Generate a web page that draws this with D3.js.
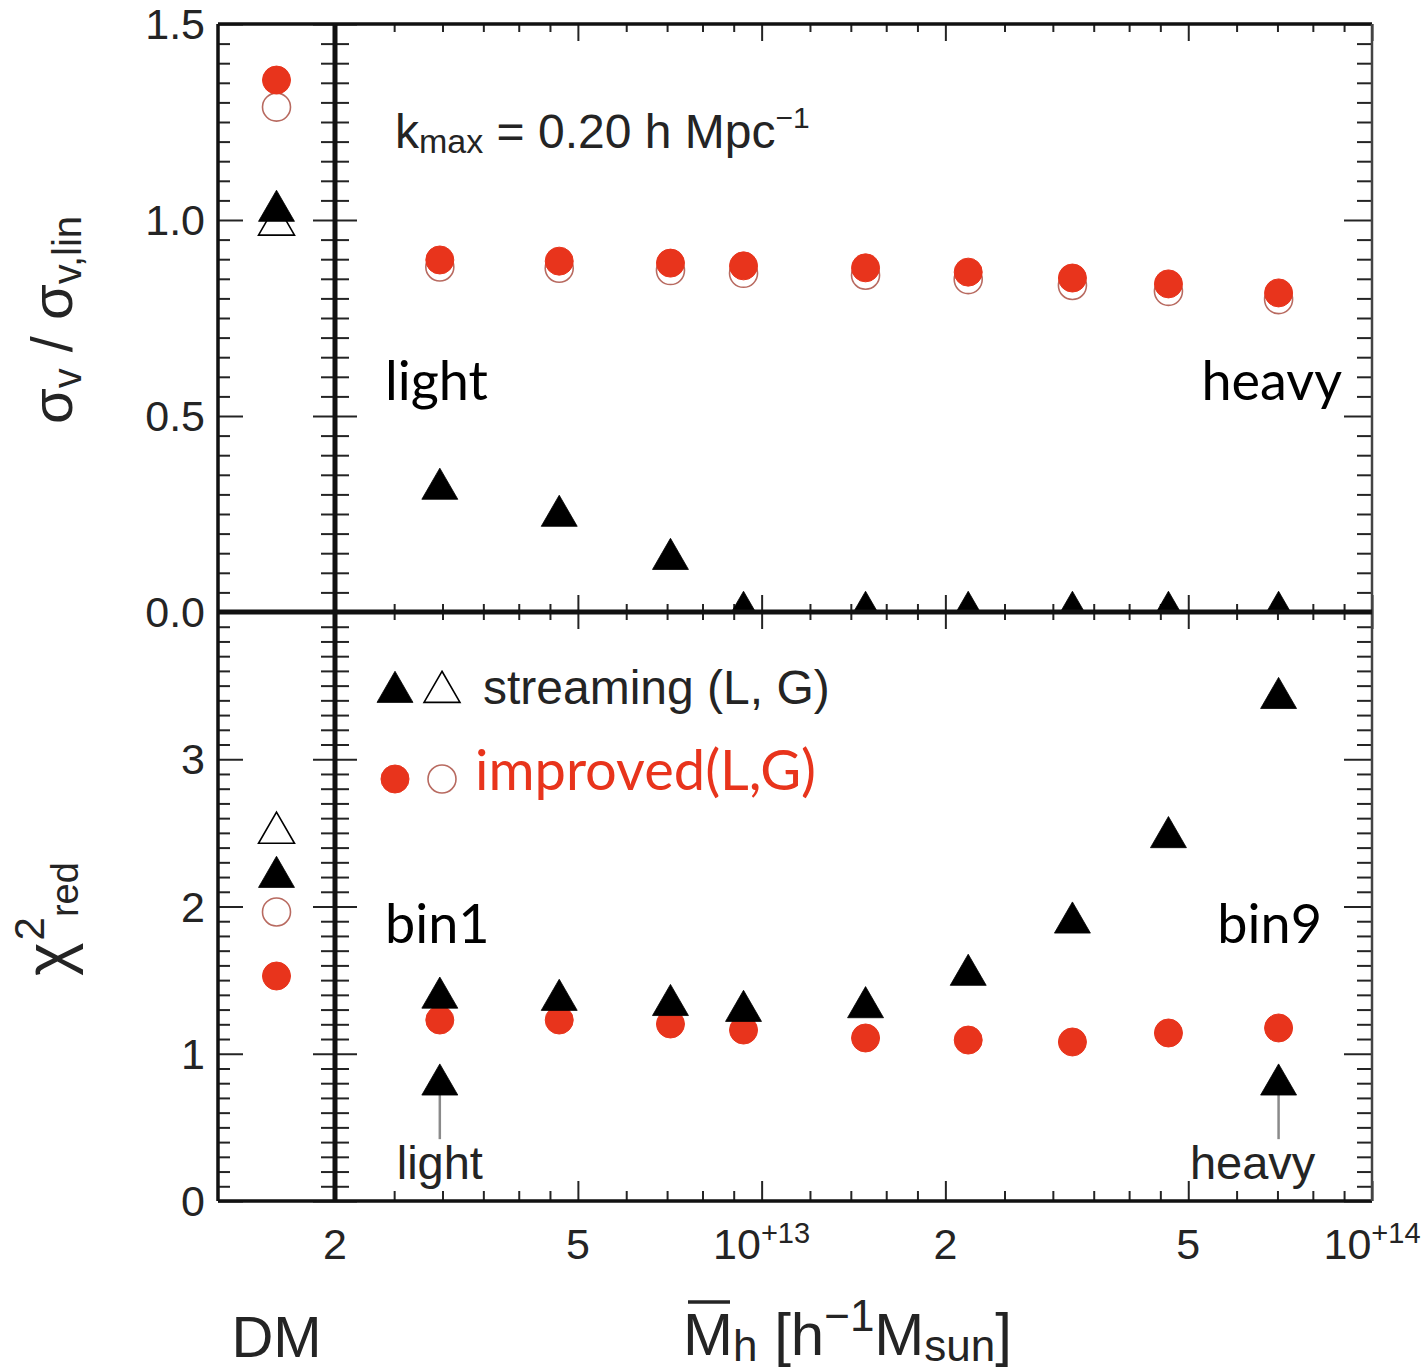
<!DOCTYPE html>
<html>
<head>
<meta charset="utf-8">
<script src="https://cdn.jsdelivr.net/npm/d3@7"></script>
<style>
  body { margin: 0; background: #fff; }
  svg { display: block; }
</style>
</head>
<body>
<script>
// ---- data -------------------------------------------------------------
// mean halo mass of each bin [h^-1 Msun]
const massBins = [2.97e12, 4.66e12, 7.09e12, 9.34e12, 1.48e13, 2.18e13, 3.23e13, 4.64e13, 7.03e13];

// sigma_v / sigma_v,lin per bin
const sigmaStreamL   = [0.314, 0.245, 0.135, 0.0, 0.0, 0.0, 0.0, 0.0, 0.0];
const sigmaImprovedL = [0.898, 0.895, 0.890, 0.883, 0.878, 0.867, 0.852, 0.837, 0.814];
const sigmaImprovedG = [0.880, 0.877, 0.871, 0.864, 0.859, 0.848, 0.833, 0.818, 0.797];

// reduced chi^2 per bin
const chiStreamL   = [1.38, 1.365, 1.33, 1.29, 1.315, 1.535, 1.89, 2.47, 3.415];
const chiImprovedL = [1.229, 1.229, 1.202, 1.161, 1.107, 1.093, 1.080, 1.141, 1.175];

// dark matter reference: [streaming L, streaming G, improved L, improved G]
const dmSigma = [1.023, 0.988, 1.357, 1.288];
const dmChi   = [2.20, 2.50, 1.528, 1.963];

// "light" / "heavy" pointers in the chi^2 panel
const pointerBins   = [2.97e12, 7.03e13];
const pointerLabels = ["light", "heavy"];
const pointerTip    = 0.79;
const pointerTail   = 0.42;

// ticks
const xMajorTicks = [2e12, 5e12, 1e13, 2e13, 5e13, 1e14];
const xMinorTicks = [2.5e12, 3e12, 3.5e12, 4e12, 4.5e12, 6e12, 7e12, 8e12, 9e12,
                     1.2e13, 1.4e13, 1.6e13, 1.8e13, 2.5e13, 3e13, 3.5e13, 4e13, 4.5e13,
                     6e13, 7e13, 8e13, 9e13];
const xTickLabels = [
  { v: 2e12, base: "2", exp: "" },
  { v: 5e12, base: "5", exp: "" },
  { v: 1e13, base: "10", exp: "+13" },
  { v: 2e13, base: "2", exp: "" },
  { v: 5e13, base: "5", exp: "" },
  { v: 1e14, base: "10", exp: "+14" }
];
const sigmaMajorTicks = [0, 0.5, 1.0, 1.5];
const sigmaTickLabels = ["0.0", "0.5", "1.0", "1.5"];
const chiMajorTicks = [0, 1, 2, 3];
const chiTickLabels = ["0", "1", "2", "3"];

// ---- layout -----------------------------------------------------------
const W = 1422, H = 1370;
const pLeft = 218, pSep = 335, pRight = 1372, pTop = 24, pMid = 612, pBottom = 1201;

const RED = "#e8341c";
const INK = "#242424";
const helv = "'Liberation Sans', Arial, sans-serif";
const gill = "Lato, 'Open Sans', sans-serif";

const svg = d3.select("body").append("svg")
  .attr("width", W).attr("height", H)
  .attr("viewBox", `0 0 ${W} ${H}`);

const x = d3.scaleLog().domain([2e12, 1e14]).range([pSep, pRight]);
const xDM = d3.scalePoint().domain(["DM"]).range([pLeft, pSep]).padding(0.5);
const ySig = d3.scaleLinear().domain([0, 1.5]).range([pMid, pTop]);
const yChi = d3.scaleLinear().domain([0, 4]).range([pBottom, pMid]);

const sigmaMinor = d3.range(0, 1.5001, 0.05).map(v => +v.toFixed(2)).filter(v => !sigmaMajorTicks.includes(v));
const chiMinor = d3.range(0, 4.0001, 0.1).map(v => +v.toFixed(1)).filter(v => v % 1 !== 0);

// clip regions for the panels
const defs = svg.append("defs");
const clips = {
  sigMain: [pSep, pTop, pRight - pSep, pMid - pTop],
  chiMain: [pSep, pMid, pRight - pSep, pBottom - pMid],
  sigDM: [pLeft, pTop, pSep - pLeft, pMid - pTop],
  chiDM: [pLeft, pMid, pSep - pLeft, pBottom - pMid]
};
Object.entries(clips).forEach(([id, r]) => {
  defs.append("clipPath").attr("id", id).append("rect")
    .attr("x", r[0]).attr("y", r[1]).attr("width", r[2]).attr("height", r[3]);
});

// ---- tick marks -------------------------------------------------------
function styleAxis(g) {
  g.select(".domain").remove();
  g.selectAll("line").attr("stroke", INK).attr("stroke-width", 2);
  g.selectAll("text").remove();
}
function yTicks(scale, xpos, values, len, dir) {
  const ax = dir > 0 ? d3.axisRight(scale) : d3.axisLeft(scale);
  svg.append("g").attr("transform", `translate(${xpos},0)`)
    .call(ax.tickValues(values).tickSize(len).tickFormat(""))
    .call(styleAxis);
}
function xTicks(scale, ypos, values, len, dir) {
  const ax = dir > 0 ? d3.axisBottom(scale) : d3.axisTop(scale);
  svg.append("g").attr("transform", `translate(0,${ypos})`)
    .call(ax.tickValues(values).tickSize(len).tickFormat(""))
    .call(styleAxis);
}

// left frame (inward), separator (both sides), right frame (inward)
[[ySig, sigmaMajorTicks, sigmaMinor], [yChi, chiMajorTicks, chiMinor]].forEach(([s, maj, mnr]) => {
  yTicks(s, pLeft, maj, 25, 1);
  yTicks(s, pLeft, mnr, 12, 1);
  yTicks(s, pSep, maj, 22, 1);
  yTicks(s, pSep, mnr, 14, 1);
  yTicks(s, pSep, maj, 22, -1);
  yTicks(s, pSep, mnr, 14, -1);
  yTicks(s, pRight, maj, 28, -1);
  yTicks(s, pRight, mnr, 15, -1);
});
// horizontal mass ticks: top (inward), middle (both sides), bottom (inward)
xTicks(x, pTop, xMajorTicks, 17, 1);
xTicks(x, pTop, xMinorTicks, 8, 1);
xTicks(x, pMid, xMajorTicks, 17, 1);
xTicks(x, pMid, xMinorTicks, 8, 1);
xTicks(x, pMid, xMajorTicks, 17, -1);
xTicks(x, pMid, xMinorTicks, 8, -1);
xTicks(x, pBottom, xMajorTicks, 20, -1);
xTicks(x, pBottom, xMinorTicks, 10, -1);

// ---- markers ----------------------------------------------------------
const triPath = d3.symbol(d3.symbolTriangle, 560)();
const R = 14;

function triangles(g, pts, filled) {
  g.selectAll(null).data(pts).join("path")
    .attr("d", triPath)
    .attr("transform", d => `translate(${d[0]},${d[1]})`)
    .attr("fill", filled ? "#000" : "#fff")
    .attr("stroke", "#000")
    .attr("stroke-width", filled ? 0.8 : 1.6);
}
function circles(g, pts, filled) {
  g.selectAll(null).data(pts).join("circle")
    .attr("cx", d => d[0]).attr("cy", d => d[1]).attr("r", R)
    .attr("fill", filled ? RED : "#fff")
    .attr("stroke", filled ? RED : "#b86a60")
    .attr("stroke-width", filled ? 1 : 1.6);
}

// sigma_v panel
const gSig = svg.append("g").attr("clip-path", "url(#sigMain)");
circles(gSig, massBins.map((m, i) => [x(m), ySig(sigmaImprovedG[i])]), false);
circles(gSig, massBins.map((m, i) => [x(m), ySig(sigmaImprovedL[i])]), true);
triangles(gSig, massBins.map((m, i) => [x(m), ySig(sigmaStreamL[i])]), true);

const gSigDM = svg.append("g").attr("clip-path", "url(#sigDM)");
const xd = xDM("DM");
triangles(gSigDM, [[xd, ySig(dmSigma[1])]], false);
triangles(gSigDM, [[xd, ySig(dmSigma[0])]], true);
circles(gSigDM, [[xd, ySig(dmSigma[3])]], false);
circles(gSigDM, [[xd, ySig(dmSigma[2])]], true);

// chi^2 panel
const gChi = svg.append("g").attr("clip-path", "url(#chiMain)");
circles(gChi, massBins.map((m, i) => [x(m), yChi(chiImprovedL[i])]), true);
triangles(gChi, massBins.map((m, i) => [x(m), yChi(chiStreamL[i])]), true);

const gChiDM = svg.append("g").attr("clip-path", "url(#chiDM)");
triangles(gChiDM, [[xd, yChi(dmChi[1])]], false);
triangles(gChiDM, [[xd, yChi(dmChi[0])]], true);
circles(gChiDM, [[xd, yChi(dmChi[3])]], false);
circles(gChiDM, [[xd, yChi(dmChi[2])]], true);

// light / heavy pointers
const pointerShift = [0, -26];
pointerBins.forEach((m, i) => {
  svg.append("line")
    .attr("x1", x(m)).attr("x2", x(m))
    .attr("y1", yChi(pointerTail)).attr("y2", yChi(pointerTip) + 8)
    .attr("stroke", "#8a8a8a").attr("stroke-width", 2.5);
  triangles(svg.append("g"), [[x(m), yChi(pointerTip)]], true);
  svg.append("text")
    .attr("x", x(m) + pointerShift[i]).attr("y", yChi(pointerTail) + 40)
    .attr("text-anchor", "middle")
    .attr("font-family", helv).attr("font-size", 47).attr("fill", INK)
    .text(pointerLabels[i]);
});

// ---- frame ------------------------------------------------------------
const frame = svg.append("g").attr("fill", "none").attr("stroke", "#111");
frame.append("line").attr("x1", pLeft).attr("x2", pRight).attr("y1", pTop).attr("y2", pTop).attr("stroke-width", 3.5);
frame.append("line").attr("x1", pLeft).attr("x2", pRight).attr("y1", pBottom).attr("y2", pBottom).attr("stroke-width", 3.5);
frame.append("line").attr("x1", pLeft).attr("x2", pLeft).attr("y1", pTop).attr("y2", pBottom).attr("stroke-width", 3.5);
frame.append("line").attr("x1", pRight).attr("x2", pRight).attr("y1", pTop).attr("y2", pBottom).attr("stroke-width", 2.5).attr("stroke", "#444");
frame.append("line").attr("x1", pLeft).attr("x2", pRight).attr("y1", pMid).attr("y2", pMid).attr("stroke-width", 5);
frame.append("line").attr("x1", pSep).attr("x2", pSep).attr("y1", pTop).attr("y2", pBottom).attr("stroke-width", 5);

// ---- tick labels ------------------------------------------------------
svg.append("g").selectAll("text").data(sigmaMajorTicks).join("text")
  .attr("x", 205).attr("y", d => ySig(d) + 15)
  .attr("text-anchor", "end")
  .attr("font-family", helv).attr("font-size", 43).attr("fill", INK)
  .text((d, i) => sigmaTickLabels[i]);

svg.append("g").selectAll("text").data(chiMajorTicks).join("text")
  .attr("x", 205).attr("y", d => yChi(d) + 15)
  .attr("text-anchor", "end")
  .attr("font-family", helv).attr("font-size", 43).attr("fill", INK)
  .text((d, i) => chiTickLabels[i]);

const xl = svg.append("g").selectAll("text").data(xTickLabels).join("text")
  .attr("x", d => x(d.v)).attr("y", 1259)
  .attr("text-anchor", "middle")
  .attr("font-family", helv).attr("font-size", 43).attr("fill", INK);
xl.append("tspan").text(d => d.base);
xl.filter(d => d.exp).append("tspan")
  .attr("dy", -16).attr("font-size", 29).text(d => d.exp);

// ---- annotations ------------------------------------------------------
const kt = svg.append("text").attr("x", 395).attr("y", 148)
  .attr("font-family", helv).attr("font-size", 48).attr("fill", INK);
kt.append("tspan").text("k");
kt.append("tspan").attr("font-size", 34).attr("dy", 5).text("max");
kt.append("tspan").attr("dy", -5).text(" = 0.20 h Mpc");
kt.append("tspan").attr("font-size", 30).attr("dy", -20).text("\u22121");

function bigLabel(txt, xp, yp, anchor) {
  svg.append("text").attr("x", xp).attr("y", yp)
    .attr("text-anchor", anchor)
    .attr("font-family", gill).attr("font-size", 54).attr("fill", "#000")
    .text(txt);
}
bigLabel("light", 385, 400, "start");
bigLabel("heavy", 1342, 400, "end");
bigLabel("bin1", 385, 943, "start");
bigLabel("bin9", 1322, 943, "end");

// legend
const lg = svg.append("g");
triangles(lg, [[395, 692]], true);
triangles(lg, [[442, 692]], false);
lg.append("text").attr("x", 483).attr("y", 704)
  .attr("font-family", helv).attr("font-size", 48).attr("fill", INK)
  .text("streaming (L, G)");
circles(lg, [[395, 779]], true);
circles(lg, [[442, 779]], false);
lg.append("text").attr("x", 475).attr("y", 790)
  .attr("font-family", gill).attr("font-size", 56).attr("fill", RED)
  .text("improved(L,G)");

// ---- axis titles ------------------------------------------------------
const ys = svg.append("text")
  .attr("transform", "translate(72,320) rotate(-90)")
  .attr("text-anchor", "middle")
  .attr("font-family", helv).attr("font-size", 58).attr("fill", INK);
ys.append("tspan").text("\u03c3");
ys.append("tspan").attr("font-size", 40).attr("dy", 9).text("v");
ys.append("tspan").attr("dy", -9).text(" / \u03c3");
ys.append("tspan").attr("font-size", 40).attr("dy", 9).text("v,lin");

const yc = svg.append("text")
  .attr("transform", "translate(70,976) rotate(-90)")
  .attr("font-family", helv).attr("font-size", 64).attr("fill", INK);
yc.append("tspan").text("\u03c7");
yc.append("tspan").attr("font-size", 42).attr("dy", -26).attr("dx", 2).text("2");
yc.append("tspan").attr("font-size", 38).attr("dy", 34).attr("dx", 0).text("red");

svg.append("text").attr("x", xDM("DM")).attr("y", 1357)
  .attr("text-anchor", "middle")
  .attr("font-family", helv).attr("font-size", 58).attr("fill", INK)
  .text("DM");

const xt = svg.append("text").attr("x", 683).attr("y", 1355)
  .attr("font-family", helv).attr("font-size", 60).attr("fill", INK);
xt.append("tspan").text("M");
xt.append("tspan").attr("font-size", 44).attr("dy", 6).text("h");
xt.append("tspan").attr("dy", -6).text(" [h");
xt.append("tspan").attr("font-size", 44).attr("dy", -24).text("\u22121");
xt.append("tspan").attr("dy", 24).text("M");
xt.append("tspan").attr("font-size", 44).attr("dy", 6).text("sun");
xt.append("tspan").attr("dy", -6).text("]");
// bar over the M
svg.append("line").attr("x1", 688).attr("x2", 730).attr("y1", 1302).attr("y2", 1302)
  .attr("stroke", INK).attr("stroke-width", 3.5);
</script>
</body>
</html>
